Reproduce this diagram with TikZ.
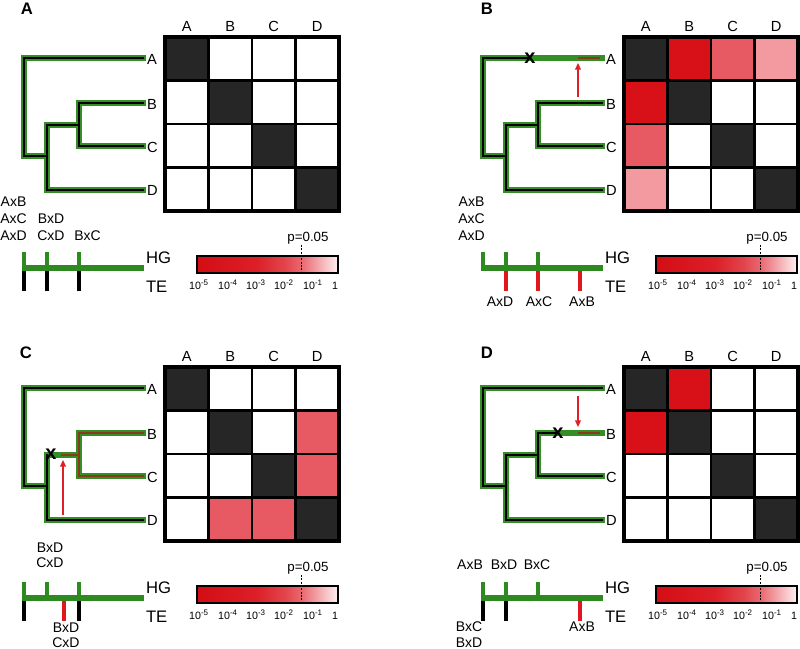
\documentclass[tikz,border=0pt]{standalone}
\usepackage{fontspec}
\setmainfont{Liberation Sans}
\usetikzlibrary{arrows.meta}
\definecolor{tgreen}{HTML}{338F25}
\definecolor{hgreen}{HTML}{2E8A20}
\definecolor{brn}{HTML}{8A3A1A}
\definecolor{dk}{HTML}{262626}
\definecolor{rA}{HTML}{D81118}
\definecolor{rB}{HTML}{E85A63}
\definecolor{rC}{HTML}{F29AA0}
\definecolor{tered}{HTML}{E0171F}
\definecolor{arr}{HTML}{E02028}
\definecolor{cb0}{HTML}{D40D14}
\definecolor{cb1}{HTML}{DC1F28}
\definecolor{cb2}{HTML}{E2434B}
\definecolor{cb3}{HTML}{EA666E}
\definecolor{cb4}{HTML}{FDF0F1}
\pgfdeclarehorizontalshading{cbar}{100bp}{color(0bp)=(cb0); color(25bp)=(cb0); color(46bp)=(cb1); color(55.8bp)=(cb2); color(61.9bp)=(cb3); color(75bp)=(cb4); color(100bp)=(cb4)}

\newcommand\drawmat[1]{%
  \foreach \col [count=\i from 0] in {#1} {%
    \pgfmathtruncatemacro\cc{mod(\i,4)}%
    \pgfmathtruncatemacro\rr{div(\i,4)}%
    \fill[\col] ({165+43.5*\cc},{37+43.5*\rr}) rectangle ++(43.5,43.5);
  }%
  \foreach \k in {1,2,3} {%
    \draw[line width=1.8pt] ({165+43.5*\k},37) -- ({165+43.5*\k},211);
    \draw[line width=1.8pt] (165,{37+43.5*\k}) -- (339,{37+43.5*\k});
  }%
  \draw[line width=2.6pt] (165,37) rectangle (339,211);
}

\newcommand\common[1]{%
  \node[hdr] (#1hA) at (186.75,26) {A};
  \node[hdr] (#1hB) at (230.25,26) {B};
  \node[hdr] (#1hC) at (273.75,26) {C};
  \node[hdr] (#1hD) at (317.25,26) {D};
  \node[leaf] (#1lA) at (147,59) {A};
  \node[leaf] (#1lB) at (147,104) {B};
  \node[leaf] (#1lC) at (147,147) {C};
  \node[leaf] (#1lD) at (147,190) {D};
  % tree coordinates
  \coordinate (#1eA) at (143,58);
  \coordinate (#1rt) at (24,58);
  \coordinate (#1rb) at (24,156);
  \coordinate (#1ir) at (47,156);
  \coordinate (#1it) at (47,125);
  \coordinate (#1ib) at (47,190);
  \coordinate (#1eD) at (143,190);
  \coordinate (#1bm) at (79,125);
  \coordinate (#1bt) at (79,103);
  \coordinate (#1bb) at (79,146);
  \coordinate (#1eB) at (143,103);
  \coordinate (#1eC) at (143,146);
  \draw[band] (#1eA) -- (#1rt) -- (#1rb) -- (#1ir);
  \draw[band] (#1eD) -- (#1ib) -- (#1it) -- (#1bm);
  \draw[band] (#1eB) -- (#1bt) -- (#1bb) -- (#1eC);
  % colour bar
  \node[draw, line width=1pt, shade, shading=cbar, minimum width=105.75pt, minimum height=12.75pt, anchor=north west] (#1cbar) at (197,256) {};
  \node[pval] (#1p) at (308,241.5) {p=0.05};
  \coordinate (#1dt) at (301,245);
  \coordinate (#1db) at (301,273);
  \draw[line width=0.6pt, dash pattern=on 1.5pt off 1pt] (#1dt) -- (#1db);
  \node[tick] (#1k5) at (199,289) {10\textsuperscript{-5}};
  \node[tick] (#1k4) at (228,289) {10\textsuperscript{-4}};
  \node[tick] (#1k3) at (256,289) {10\textsuperscript{-3}};
  \node[tick] (#1k2) at (284,289) {10\textsuperscript{-2}};
  \node[tick] (#1k1) at (313,289) {10\textsuperscript{-1}};
  \node[tick] (#1k0) at (335,289) {1};
  % time line coordinates
  \coordinate (#1t0) at (22.4,268);
  \coordinate (#1t1) at (24,268);
  \coordinate (#1t2) at (47,268);
  \coordinate (#1t3) at (79,268);
  \coordinate (#1t4) at (121,268);
  \coordinate (#1tE) at (144,268);
  \coordinate (#1u1) at (24,252);
  \coordinate (#1u2) at (47,252);
  \coordinate (#1u3) at (79,252);
  \coordinate (#1d1) at (24,291);
  \coordinate (#1d2) at (47,291);
  \coordinate (#1d3) at (79,291);
  \coordinate (#1d4) at (121,291);
  \coordinate (#1dC) at (64,291);
  \coordinate (#1tC) at (64,268);
  \node[hgte] (#1HG) at (146,258) {HG};
  \node[hgte] (#1TE) at (146,286.5) {TE};
}
\newcommand\hgline[1]{%
  \draw[hgln] (#1t0) -- (#1tE);
  \draw[hgtick] (#1u1) -- (#1t1);
  \draw[hgtick] (#1u2) -- (#1t2);
  \draw[hgtick] (#1u3) -- (#1t3);
}

\begin{document}
\begin{tikzpicture}[x=0.75pt,y=-0.75pt,
  every node/.style={inner sep=0pt, outer sep=0pt},
  plabel/.style={font=\fontsize{12.5}{14}\selectfont\bfseries},
  hdr/.style={font=\fontsize{11}{12}\selectfont},
  leaf/.style={font=\fontsize{11}{12}\selectfont, anchor=west},
  pair/.style={font=\fontsize{10.5}{12}\selectfont},
  hgte/.style={font=\fontsize{12.5}{14}\selectfont, anchor=west},
  tick/.style={font=\fontsize{8}{9}\selectfont, anchor=base},
  pval/.style={font=\fontsize{10}{11}\selectfont, anchor=base},
  band/.style={draw=tgreen, line width=4.8pt, line cap=rect, line join=miter},
  coreln/.style={draw=black, line width=1.8pt, line cap=rect, line join=miter},
  brownln/.style={draw=brn, line width=1.7pt, line cap=rect, line join=miter},
  brownbit/.style={draw=brn, line width=1.3pt},
  hgln/.style={draw=hgreen, line width=3.9pt},
  hgtick/.style={draw=hgreen, line width=2.4pt},
  tetick/.style={draw=black, line width=2.9pt},
  teredtick/.style={draw=tered, line width=2.9pt},
  redarrow/.style={draw=arr, line width=1pt, -{Triangle[length=5pt,width=4.4pt]}},
  xmark/.style={font=\fontsize{15}{16}\selectfont\bfseries, text height=7.8pt, text depth=0pt},
]
\useasboundingbox (0,0) rectangle (800,649);
\fill[white] (0,0) rectangle (800,649);

% ---------------- Panel A ----------------
\begin{scope}
  \node[plabel] (Alab) at (27,9) {A};
  \drawmat{dk,white,white,white, white,dk,white,white, white,white,dk,white, white,white,white,dk}
  \common{A}
  \draw[coreln] (AeA) -- (Art) -- (Arb) -- (Air);
  \draw[coreln] (AeD) -- (Aib) -- (Ait) -- (Abm);
  \draw[coreln] (AeB) -- (Abt) -- (Abb) -- (AeC);
  \draw[tetick] (At1) -- (Ad1);
  \draw[tetick] (At2) -- (Ad2);
  \draw[tetick] (At3) -- (Ad3);
  \hgline{A}
  \node[pair] (Ap1) at (13.5,202) {AxB};
  \node[pair] (Ap2) at (13.5,219) {AxC};
  \node[pair] (Ap3) at (13.5,236) {AxD};
  \node[pair] (Ap4) at (51,219) {BxD};
  \node[pair] (Ap5) at (51,236) {CxD};
  \node[pair] (Ap6) at (87.5,236) {BxC};
\end{scope}

% ---------------- Panel B ----------------
\begin{scope}[shift={(459,0)}]
  \node[plabel] (Blab) at (28,9) {B};
  \drawmat{dk,rA,rB,rC, rA,dk,white,white, rB,white,dk,white, rC,white,white,dk}
  \common{B}
  \coordinate (BxX) at (71,58);
  \draw[coreln] (BxX) -- (Brt) -- (Brb) -- (Bir);
  \draw[coreln] (BeD) -- (Bib) -- (Bit) -- (Bbm);
  \draw[coreln] (BeB) -- (Bbt) -- (Bbb) -- (BeC);
  \coordinate (Bw0) at (119,58);
  \coordinate (Bw1) at (141,58);
  \draw[brownbit] (Bw0) -- (Bw1);
  \node[xmark] (BX) at (BxX) {x};
  \coordinate (Ba0) at (119,97);
  \coordinate (Ba1) at (119,63);
  \draw[redarrow] (Ba0) -- (Ba1);
  \draw[teredtick] (Bt2) -- (Bd2);
  \draw[teredtick] (Bt3) -- (Bd3);
  \draw[teredtick] (Bt4) -- (Bd4);
  \hgline{B}
  \node[pair] (Bp1) at (12.5,202) {AxB};
  \node[pair] (Bp2) at (12.5,219) {AxC};
  \node[pair] (Bp3) at (12.5,236) {AxD};
  \node[pair] (Bq1) at (41,302) {AxD};
  \node[pair] (Bq2) at (80,302) {AxC};
  \node[pair] (Bq3) at (123,302) {AxB};
\end{scope}

% ---------------- Panel C ----------------
\begin{scope}[shift={(0,330)}]
  \node[plabel] (Clab) at (26,23) {C};
  \drawmat{dk,white,white,white, white,dk,white,rB, white,white,dk,rB, white,rB,rB,dk}
  \common{C}
  \draw[coreln] (CeA) -- (Crt) -- (Crb) -- (Cir);
  \draw[coreln] (CeD) -- (Cib) -- (Cit);
  \coordinate (Cw0) at (62,125);
  \draw[brownln] (Cw0) -- (Cbm);
  \draw[brownln] (CeB) -- (Cbt) -- (Cbb) -- (CeC);
  \node[xmark] (CX) at (51,124) {x};
  \coordinate (Ca0) at (63,185);
  \coordinate (Ca1) at (63,130);
  \draw[redarrow] (Ca0) -- (Ca1);
  \draw[tetick] (Ct1) -- (Cd1);
  \draw[tetick] (Ct3) -- (Cd3);
  \draw[teredtick] (CtC) -- (CdC);
  \hgline{C}
  \node[pair] (Cp1) at (50,218) {BxD};
  \node[pair] (Cp2) at (50,233) {CxD};
  \node[pair] (Cq1) at (66,298) {BxD};
  \node[pair] (Cq2) at (66,313) {CxD};
\end{scope}

% ---------------- Panel D ----------------
\begin{scope}[shift={(459,330)}]
  \node[plabel] (Dlab) at (28,23) {D};
  \drawmat{dk,rA,white,white, rA,dk,white,white, white,white,dk,white, white,white,white,dk}
  \common{D}
  \coordinate (DxX) at (99,103);
  \draw[coreln] (DeA) -- (Drt) -- (Drb) -- (Dir);
  \draw[coreln] (DeD) -- (Dib) -- (Dit) -- (Dbm);
  \draw[coreln] (DxX) -- (Dbt) -- (Dbb) -- (DeC);
  \coordinate (Dw0) at (119,103);
  \coordinate (Dw1) at (141,103);
  \draw[brownbit] (Dw0) -- (Dw1);
  \node[xmark] (DX) at (DxX) {x};
  \coordinate (Da0) at (119,66);
  \coordinate (Da1) at (119,97);
  \draw[redarrow] (Da0) -- (Da1);
  \draw[tetick] (Dt1) -- (Dd1);
  \draw[tetick] (Dt2) -- (Dd2);
  \draw[teredtick] (Dt4) -- (Dd4);
  \hgline{D}
  \node[pair] (Dp1) at (11,235) {AxB};
  \node[pair] (Dp2) at (45,235) {BxD};
  \node[pair] (Dp3) at (78,235) {BxC};
  \node[pair] (Dq1) at (10,297) {BxC};
  \node[pair] (Dq2) at (10,313) {BxD};
  \node[pair] (Dq3) at (123,297) {AxB};
\end{scope}
\end{tikzpicture}
\end{document}
